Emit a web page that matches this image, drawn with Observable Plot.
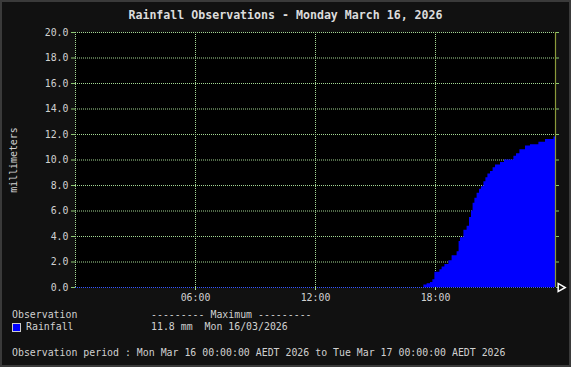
<!DOCTYPE html>
<html>
<head>
<meta charset="utf-8">
<script src="https://cdn.jsdelivr.net/npm/d3@7"></script>
<script src="https://cdn.jsdelivr.net/npm/@observablehq/plot@0.6"></script>
<style>
  html, body { margin: 0; padding: 0; background: #111; }
  #wrap { position: relative; width: 571px; height: 367px; background: #111; box-shadow: inset 0 0 0 2px #3a3a3a; overflow: hidden; font-family: "DejaVu Sans Mono", monospace; color: #d0d0d0; }
  #wrap svg { position: absolute; left: 0; top: 0; }
  .t { position: absolute; font-size: 9.9px; line-height: 12px; white-space: pre; }
  #title { position: absolute; left: 0; top: 8px; width: 571px; text-align: center; font-size: 11.6px; font-weight: bold; line-height: 14px; color: #dcdcdc; white-space: pre; }
  #swatch { position: absolute; left: 12px; top: 323px; width: 7px; height: 7px; background: #0000ff; border: 1px solid #ccc; }
</style>
</head>
<body>
<div id="wrap">
  <div id="title"></div>
  <div class="t" id="obsHead" style="left:12px;top:309px"></div>
  <div class="t" id="maxHead" style="left:151px;top:309px"></div>
  <div id="swatch"></div>
  <div class="t" id="seriesName" style="left:26px;top:321px"></div>
  <div class="t" id="maxVal" style="left:151px;top:321px"></div>
  <div class="t" id="period" style="left:12px;top:347px"></div>
</div>
<script>
const titleText = "Rainfall Observations - Monday March 16, 2026";
const yLabel = "millimeters";
const seriesName = "Rainfall";
const maxText = "11.8 mm  Mon 16/03/2026";
const periodText = "Observation period : Mon Mar 16 00:00:00 AEDT 2026 to Tue Mar 17 00:00:00 AEDT 2026";

const xTicks = [6, 12, 18];
const xTickLabels = ["06:00", "12:00", "18:00"];
const yTicks = [0, 2, 4, 6, 8, 10, 12, 14, 16, 18, 20];

// hours since midnight, cumulative rainfall (mm)
const hours = [0, 17.42, 17.58, 17.75, 17.87, 17.97, 18.22, 18.33, 18.47, 18.67, 18.83, 19.08, 19.18, 19.25, 19.42, 19.58, 19.7, 19.8, 19.88, 19.97, 20.08, 20.2, 20.3, 20.42, 20.52, 20.62, 20.75, 20.88, 21.0, 21.25, 21.45, 21.92, 22.05, 22.22, 22.5, 22.75, 23.17, 23.5, 23.92, 24];
const rain  = [0, 0.2, 0.3, 0.4, 0.6, 1.2, 1.4, 1.6, 1.8, 2.1, 2.5, 2.8, 3.6, 3.9, 4.5, 4.8, 5.5, 6.0, 6.6, 7.0, 7.4, 7.7, 7.9, 8.3, 8.6, 8.9, 9.1, 9.4, 9.6, 9.8, 10.0, 10.3, 10.5, 10.8, 11.1, 11.2, 11.4, 11.6, 11.8, 11.8];

const data = hours.map((h, i) => ({h, v: rain[i]}));

const gridColor = "#a4d894";
const axisColor = "#8cc870";

document.getElementById("title").textContent = titleText;
document.getElementById("obsHead").textContent = "Observation";
document.getElementById("maxHead").textContent = "--------- Maximum ---------";
document.getElementById("seriesName").textContent = seriesName;
document.getElementById("maxVal").textContent = maxText;
document.getElementById("period").textContent = periodText;

const chart = Plot.plot({
  width: 571,
  height: 305,
  marginLeft: 75,
  marginRight: 16,
  marginTop: 32,
  marginBottom: 18,
  style: {background: "transparent", color: "#d0d0d0", fontFamily: "DejaVu Sans Mono", fontSize: "9.9px", overflow: "visible"},
  x: {domain: [0, 24]},
  y: {domain: [0, 20]},
  marks: [
    Plot.frame({fill: "black", stroke: null}),
    Plot.gridX(xTicks, {stroke: gridColor, strokeOpacity: 1, strokeDasharray: "1,1"}),
    Plot.gridY(yTicks.filter(d => d > 0), {stroke: gridColor, strokeOpacity: 1, strokeDasharray: "1,1"}),
    Plot.areaY(data, {x: "h", y: "v", curve: "step-after", fill: "#0000ff"}),
    Plot.ruleY([0], {stroke: "#3355ff", strokeDasharray: "1,1"}),
    Plot.ruleX([0], {stroke: gridColor, strokeDasharray: "1,1"}),
    Plot.ruleX([24], {stroke: "#8a9a3a", strokeWidth: 1.2}),
    Plot.axisY(yTicks, {anchor: "left", tickSize: 4, tickPadding: 3, stroke: axisColor, fill: "#d0d0d0", tickFormat: d => d.toFixed(1), label: null}),
    Plot.axisY(yTicks, {anchor: "right", tickSize: 3, stroke: axisColor, tickFormat: () => "", label: null}),
    Plot.axisX(xTicks, {anchor: "bottom", tickSize: 3, tickPadding: 3, stroke: gridColor, fill: "#d0d0d0", tickFormat: (d, i) => xTickLabels[i], label: null}),
    Plot.dot([{h: 24, v: 0}], {x: "h", y: "v", symbol: "triangle", rotate: 90, r: 3, stroke: "white", fill: "none", dx: 5}),
    Plot.text([yLabel], {frameAnchor: "left", dx: -62, rotate: -90, textAnchor: "middle", text: d => d, fill: "#d0d0d0"})
  ]
});
document.getElementById("wrap").insertBefore(chart, document.getElementById("wrap").firstChild);
</script>
</body>
</html>
